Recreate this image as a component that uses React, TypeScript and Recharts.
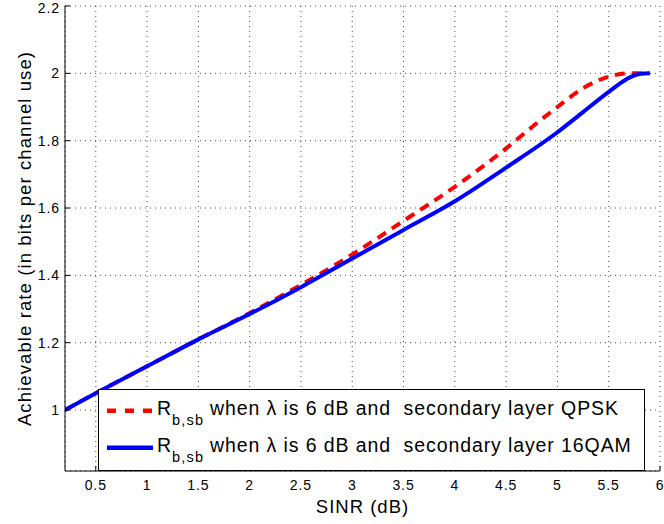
import React from 'react';
import { LineChart, Line, XAxis, YAxis, CartesianGrid, Legend } from 'recharts';

const FONT = '"Liberation Sans", Arial, Helvetica, sans-serif';

// Series: secondary layer QPSK (red dashed)
const sinrQPSK = [0.2, 0.5, 1.0, 1.5, 2.0, 2.5, 3.0, 3.5, 4.0, 4.5, 4.75, 5.0, 5.25, 5.5, 5.7, 5.9];
const rateQPSK = [1.0, 1.05, 1.13, 1.21, 1.288, 1.372, 1.462, 1.562, 1.663, 1.777, 1.84, 1.9, 1.956, 1.99, 2.0, 2.0];

// Series: secondary layer 16QAM (blue solid)
const sinr16QAM = [0.2, 0.5, 1.0, 1.5, 2.0, 2.5, 3.0, 3.5, 4.0, 4.5, 5.0, 5.25, 5.5, 5.67, 5.8, 5.9];
const rate16QAM = [1.0, 1.05, 1.13, 1.21, 1.285, 1.365, 1.45, 1.535, 1.62, 1.72, 1.825, 1.885, 1.945, 1.982, 1.998, 2.0];

const xTicks = [0.5, 1, 1.5, 2, 2.5, 3, 3.5, 4, 4.5, 5, 5.5, 6];
const yTicks = [1, 1.2, 1.4, 1.6, 1.8, 2, 2.2];
const xDomain = [0.2, 6];
const yDomain = [0.819, 2.2];

const xLabel = 'SINR (dB)';
const yLabel = 'Achievable rate (in bits per channel use)';

const legendItems = [
  { main: 'R', sub: 'b,sb', rest: 'when \u03bb is 6 dB and  secondary layer QPSK', color: '#ff0000', dash: '9 9' },
  { main: 'R', sub: 'b,sb', rest: 'when \u03bb is 6 dB and  secondary layer 16QAM', color: '#0000ff', dash: undefined },
];

const qpskData = sinrQPSK.map((x, i) => ({ sinr: x, rate: rateQPSK[i] }));
const qamData = sinr16QAM.map((x, i) => ({ sinr: x, rate: rate16QAM[i] }));

const tickStyle = { fontSize: 14, letterSpacing: 0.9, fill: '#000', fontFamily: FONT };

const renderYLabel = (props: any) => {
  const vb = props.viewBox || { x: 0, y: 6, width: 65, height: 465 };
  const cx = vb.x + 24;
  const cy = vb.y + vb.height / 2;
  return (
    <text
      x={cx}
      y={cy}
      transform={`rotate(-90 ${cx} ${cy})`}
      textAnchor="middle"
      dominantBaseline="central"
      style={{ fontFamily: FONT, fontSize: 18.5, letterSpacing: 1.1, fill: '#000' }}
    >
      {yLabel}
    </text>
  );
};

const renderXLabel = (props: any) => {
  const vb = props.viewBox || { x: 65, y: 471, width: 595, height: 53 };
  const cx = vb.x + vb.width / 2;
  const by = vb.y + 42;
  return (
    <text
      x={cx}
      y={by}
      textAnchor="middle"
      style={{ fontFamily: FONT, fontSize: 18.5, letterSpacing: 1.0, fill: '#000' }}
    >
      {xLabel}
    </text>
  );
};

const renderLegend = () => {
  const W = 547;
  const H = 82;
  const rows = [21.7, 58.7];
  return (
    <svg width={W} height={H} style={{ display: 'block' }}>
      <rect x={0.5} y={0.5} width={W - 1} height={H - 1} fill="#fff" stroke="#000" strokeWidth={1} />
      {legendItems.map((it, i) => {
        const cy = rows[i];
        const base = cy + 4.3;
        return (
          <g key={i}>
            <line x1={9} x2={55} y1={cy} y2={cy} stroke={it.color} strokeWidth={4.5} strokeDasharray={it.dash} />
            <text style={{ fontFamily: FONT, fontSize: 19.5, fill: '#000', whiteSpace: 'pre' }}>
              <tspan x={59} y={base}>{it.main}</tspan>
              <tspan x={74} y={base + 10} style={{ fontSize: 14.5, letterSpacing: 1.2 }}>{it.sub}</tspan>
              <tspan x={112} y={base} style={{ letterSpacing: 0.9 }}>{it.rest}</tspan>
            </text>
          </g>
        );
      })}
    </svg>
  );
};

export default function App() {
  return (
    <div style={{ position: 'absolute', left: 0, top: 0, width: 664, height: 524, background: '#fff' }}>
      <LineChart width={664} height={524} margin={{ top: 6, right: 4, bottom: 0, left: 0 }}>
        <CartesianGrid stroke="#000" strokeDasharray="1 4" strokeWidth={1} strokeOpacity={0.7} />
        <XAxis
          dataKey="sinr"
          type="number"
          domain={xDomain}
          ticks={xTicks}
          allowDataOverflow
          height={53}
          stroke="#000"
          tickSize={-5}
          tickMargin={14}
          tick={tickStyle}
          label={renderXLabel}
        />
        <XAxis
          xAxisId="top"
          orientation="top"
          type="number"
          domain={xDomain}
          ticks={xTicks}
          allowDataOverflow
          height={0}
          stroke="#000"
          tickSize={-5}
          tick={false}
        />
        <YAxis
          type="number"
          domain={yDomain}
          ticks={yTicks}
          allowDataOverflow
          width={65}
          stroke="#000"
          tickSize={-5}
          tickMargin={10}
          tick={tickStyle}
          label={renderYLabel}
        />
        <YAxis
          yAxisId="right"
          orientation="right"
          type="number"
          domain={yDomain}
          ticks={yTicks}
          allowDataOverflow
          width={0}
          stroke="#000"
          tickSize={-5}
          tick={false}
        />
        <Line
          data={qpskData}
          dataKey="rate"
          type="monotone"
          stroke="#ff0000"
          strokeWidth={4}
          strokeDasharray="10 7"
          dot={false}
          activeDot={false}
          isAnimationActive={false}
          legendType="none"
        />
        <Line
          data={qamData}
          dataKey="rate"
          type="monotone"
          stroke="#0000ff"
          strokeWidth={4}
          dot={false}
          activeDot={false}
          isAnimationActive={false}
          legendType="none"
        />
        <Legend
          layout="horizontal"
          verticalAlign="middle"
          align="center"
          wrapperStyle={{ left: 98, top: 389, width: 547, height: 82, margin: 0, padding: 0 }}
          content={renderLegend}
        />
      </LineChart>
    </div>
  );
}
